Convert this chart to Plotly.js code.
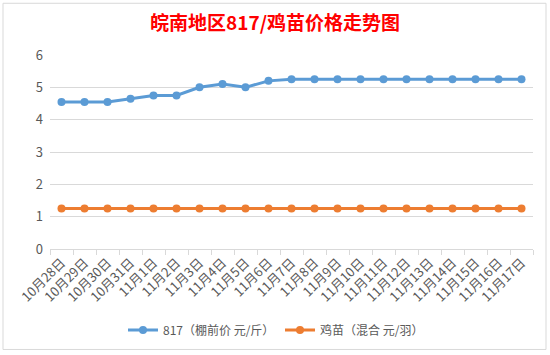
<!DOCTYPE html>
<html>
<head>
<meta charset="utf-8">
<script src="https://cdn.plot.ly/plotly-3.0.1.min.js"></script>
<style>
html,body{margin:0;padding:0;background:#fff;}
#chart{width:550px;height:355px;}
</style>
</head>
<body>
<div id="chart"></div>
<script>
var categories = ["10月28日","10月29日","10月30日","10月31日","11月1日","11月2日","11月3日","11月4日","11月5日","11月6日","11月7日","11月8日","11月9日","11月10日","11月11日","11月12日","11月13日","11月14日","11月15日","11月16日","11月17日"];
var price817 = [4.55,4.55,4.55,4.65,4.75,4.75,5.0,5.1,5.0,5.2,5.25,5.25,5.25,5.25,5.25,5.25,5.25,5.25,5.25,5.25,5.25];
var chickPrice = [1.25,1.25,1.25,1.25,1.25,1.25,1.25,1.25,1.25,1.25,1.25,1.25,1.25,1.25,1.25,1.25,1.25,1.25,1.25,1.25,1.25];
var seriesNames = ["817（棚前价 元/斤）","鸡苗（混合 元/羽）"];
var yTicks = [0,1,2,3,4,5,6];

var font = "'Noto Sans CJK SC', 'Noto Sans', sans-serif";
var L = 50, R = 17, T = 55, B = 105, W = 550, H = 355;
var pw = W - L - R, ph = H - T - B;
function px(x){return (x - L)/pw;}
function py(y){return (H - B - y)/ph;}

var traces = [
  {x: categories, y: price817, name: seriesNames[0], type: 'scatter', mode: 'lines+markers',
   line: {color: '#5B9BD5', width: 3}, marker: {color: '#5B9BD5', size: 8}},
  {x: categories, y: chickPrice, name: seriesNames[1], type: 'scatter', mode: 'lines+markers',
   line: {color: '#ED7D31', width: 3}, marker: {color: '#ED7D31', size: 8}}
];

var layout = {
  width: W, height: H,
  margin: {l: L, r: R, t: T, b: B},
  paper_bgcolor: '#fff', plot_bgcolor: '#fff',
  font: {family: font, color: '#595959', size: 12},
  title: {text: '<b>皖南地区817/鸡苗价格走势图</b>', font: {family: font, size: 19, color: '#FF0000'},
          x: 0.5, xref: 'container', xanchor: 'center', y: 1 - 23/H, yanchor: 'middle'},
  xaxis: {type: 'category', tickangle: -45, tickson: 'boundaries', ticks: 'outside', ticklen: 5,
          tickcolor: '#d9d9d9', showline: true, linecolor: '#d9d9d9', linewidth: 1,
          showgrid: false, tickfont: {size: 13, color: '#595959'}, range: [-0.5, 20.5]},
  yaxis: {range: [0, 6], tickvals: yTicks, showgrid: true, gridcolor: '#d9d9d9', gridwidth: 1,
          zeroline: false, showline: false, ticks: '', ticklabelstandoff: 6,
          tickfont: {size: 13, color: '#595959'}},
  showlegend: true,
  legend: {orientation: 'h', x: px(280), xanchor: 'center', y: py(330), yanchor: 'middle',
           entrywidth: 112, entrywidthmode: 'pixels',
           font: {size: 12, color: '#595959'}},
  shapes: [
    {type: 'rect', xref: 'paper', yref: 'paper', x0: px(3), x1: px(546), y0: py(351), y1: py(3),
     line: {color: '#d9d9d9', width: 1}, fillcolor: 'rgba(0,0,0,0)', layer: 'below'}
  ]
};

Plotly.newPlot('chart', traces, layout, {displayModeBar: false, staticPlot: true});
</script>
</body>
</html>
